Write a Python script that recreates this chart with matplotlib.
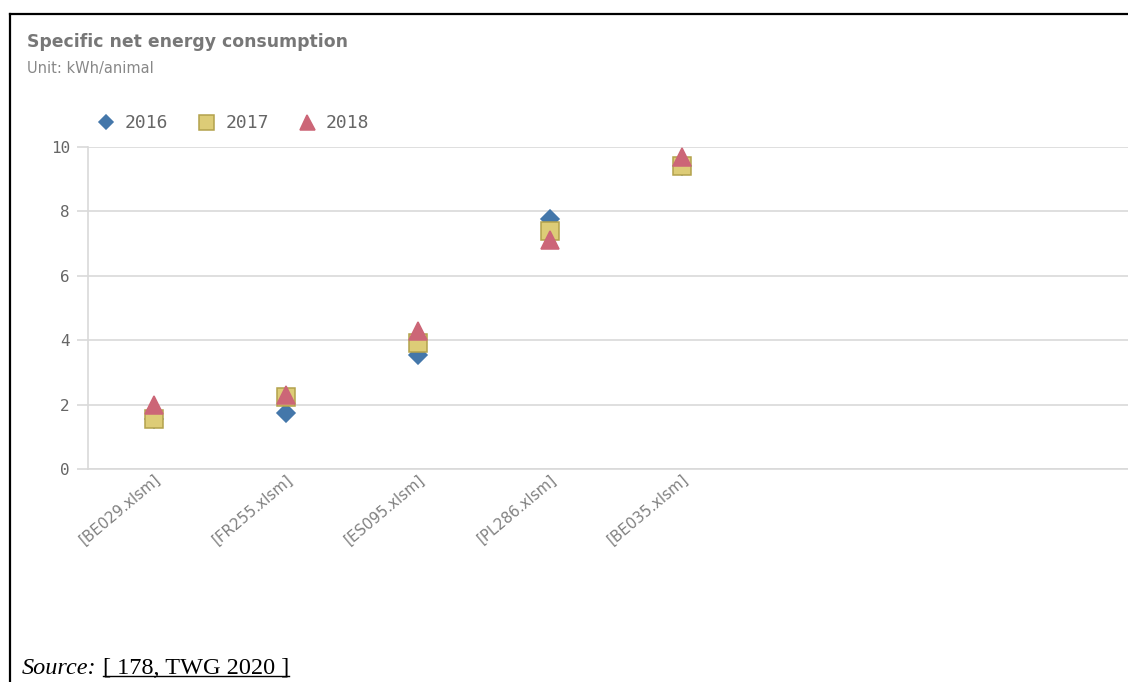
import matplotlib.pyplot as plt
from matplotlib.lines import Line2D
from matplotlib.transforms import ScaledTranslation
import numpy as np

# data
sites = ['[BE029.xlsm]', '[FR255.xlsm]', '[ES095.xlsm]', '[PL286.xlsm]', '[BE035.xlsm]']
years = ['2016', '2017', '2018']
val_2016 = [1.55, 1.75, 3.55, 7.75, 9.4]
val_2017 = [1.55, 2.25, 3.9, 7.4, 9.4]
val_2018 = [2.0, 2.3, 4.3, 7.1, 9.7]
y_ticks = [0, 2, 4, 6, 8, 10]

series = [
    (val_2016, 'D', '#4477aa', '#4477aa', 9.0, 7.6),
    (val_2017, 's', '#ddcc77', '#b3a24c', 13.5, 10.8),
    (val_2018, '^', '#cc6677', '#cc6677', 13.0, 10.8),
]

fig = plt.figure(figsize=(11.28, 6.82), dpi=100)
ax = fig.add_axes([0.078, 0.3123, 0.922, 0.4721])

x = np.arange(len(sites))
handles = []
for (vals, mk, fc, ec, ms, lms), yr in zip(series, years):
    h, = ax.plot(x, vals, linestyle='none', marker=mk, markersize=ms,
                 markerfacecolor=fc, markeredgecolor=ec, markeredgewidth=1.1,
                 label=yr, zorder=3, clip_on=False)
    handles.append(h)

ax.set_xlim(-0.5, 7.38)
ax.set_ylim(0, 10)
ax.set_yticks(y_ticks)
ax.set_yticklabels([str(t) for t in y_ticks], family='DejaVu Sans Mono',
                   fontsize=11.5, color='#666666')
ax.set_xticks(x)
ax.set_xticklabels(sites, rotation=40, ha='right', va='top', rotation_mode='anchor',
                   fontsize=10.8, color='#808080')
shift = ScaledTranslation(5 / 72, 0, fig.dpi_scale_trans)
for lab in ax.get_xticklabels():
    lab.set_transform(lab.get_transform() + shift)
ax.tick_params(axis='y', length=8, width=1.2, color='#d9d9d9', pad=5)
ax.tick_params(axis='x', length=0, pad=2)
ax.grid(axis='y', color='#d9d9d9', linewidth=1.2, zorder=0)
for s in ['top', 'right']:
    ax.spines[s].set_visible(False)
for s in ['left', 'bottom']:
    ax.spines[s].set_color('#d9d9d9')
    ax.spines[s].set_linewidth(1.2)

# title and subtitle
fig.text(27 / 1128, 1 - 42 / 682, 'Specific net energy consumption', fontsize=12.4,
         fontweight='bold', color='#777777', va='center')
fig.text(27 / 1128, 1 - 68 / 682, 'Unit: kWh/animal', fontsize=10.5,
         color='#888888', va='center')

leg = fig.legend(handles=handles, loc='center left', bbox_to_anchor=(88 / 1128, 1 - 123 / 682),
                 ncol=3, frameon=False, borderpad=0, handlelength=1.0, handletextpad=0.55,
                 columnspacing=1.6, prop={'family': 'DejaVu Sans Mono', 'size': 13})
for h, s in zip(leg.legend_handles, series):
    h.set_markersize(s[5])
for t in leg.get_texts():
    t.set_color('#666666')

# frame lines of the page
fig.add_artist(Line2D([9.5 / 1128, 9.5 / 1128], [0, 1 - 14 / 682], color='black',
                      linewidth=1.6, transform=fig.transFigure))
fig.add_artist(Line2D([9.5 / 1128, 1], [1 - 14 / 682, 1 - 14 / 682], color='black',
                      linewidth=1.6, transform=fig.transFigure))

# source note
src_y = 1 - 668 / 682
t1 = fig.text(22 / 1128, src_y, 'Source:', fontsize=17.5, family='Liberation Serif',
              style='italic', va='center')
fig.canvas.draw()
r = fig.canvas.get_renderer()
bb = t1.get_window_extent(r)
x2 = (bb.x1 + 6) / 1128
t2 = fig.text(x2, src_y, '[ 178, TWG 2020 ]', fontsize=17.5, family='Liberation Serif',
              va='center')
bb2 = t2.get_window_extent(r)
uy = (bb2.y0 + 3) / 682
fig.add_artist(Line2D([bb2.x0 / 1128, bb2.x1 / 1128], [uy, uy], color='black',
                      linewidth=1.0, transform=fig.transFigure))

fig.savefig('out.png', dpi=100)
